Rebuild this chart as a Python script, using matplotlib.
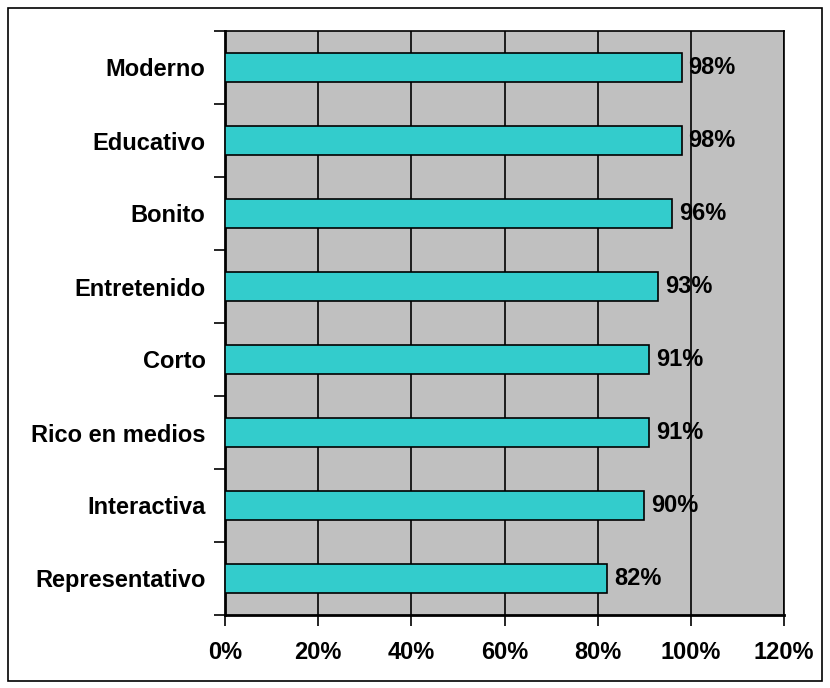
import matplotlib
matplotlib.use("Agg")
import matplotlib.pyplot as plt
from matplotlib.patches import Rectangle

categories = ["Moderno", "Educativo", "Bonito", "Entretenido", "Corto",
              "Rico en medios", "Interactiva", "Representativo"]
values = [98, 98, 96, 93, 91, 91, 90, 82]
xticks = [0, 20, 40, 60, 80, 100, 120]
xticklabels = ["0%", "20%", "40%", "60%", "80%", "100%", "120%"]

plt.rcParams['font.family'] = ['Liberation Sans', 'DejaVu Sans']

fig = plt.figure(figsize=(8.3, 6.88), dpi=100)
fig.patch.set_facecolor('white')
fig.patches.append(Rectangle((8/830, 1 - 681/688), 814/830, 673/688,
                             transform=fig.transFigure, fill=False,
                             edgecolor='black', linewidth=1.2))

ax = fig.add_axes([225/830, 1 - 615/688, (784-225)/830, (615-31)/688])
ax.set_facecolor('#C0C0C0')

n = len(categories)
ypos = list(range(n))[::-1]
ax.barh(ypos, values, height=0.41, color='#33CCCC', edgecolor='black', linewidth=1.2, zorder=3)
for y, v in zip(ypos, values):
    ax.text(v + 1.5, y, f"{v}%", va='center', ha='left', fontsize=17, fontweight='bold', zorder=4)

ax.set_xlim(0, 120)
ax.set_ylim(-0.5, n - 0.5)
ax.set_xticks(xticks)
ax.set_xticklabels(xticklabels, fontsize=17, fontweight='bold')
ax.set_yticks(ypos)
ax.set_yticklabels(categories, fontsize=17, fontweight='bold')
ax.tick_params(axis='y', length=0, pad=14)
ax.set_yticks([i - 0.5 for i in range(n + 1)], minor=True)
ax.tick_params(axis='y', which='minor', length=8, width=1.2, direction='out')
ax.tick_params(axis='x', length=8, width=1.2, direction='out', pad=11)

ax.xaxis.grid(True, color='black', linewidth=1.2, zorder=1)
ax.set_axisbelow(True)
for s in ['left', 'bottom']:
    ax.spines[s].set_linewidth(2)
for s in ['top', 'right']:
    ax.spines[s].set_linewidth(1.2)

fig.savefig("out.png", dpi=100)
